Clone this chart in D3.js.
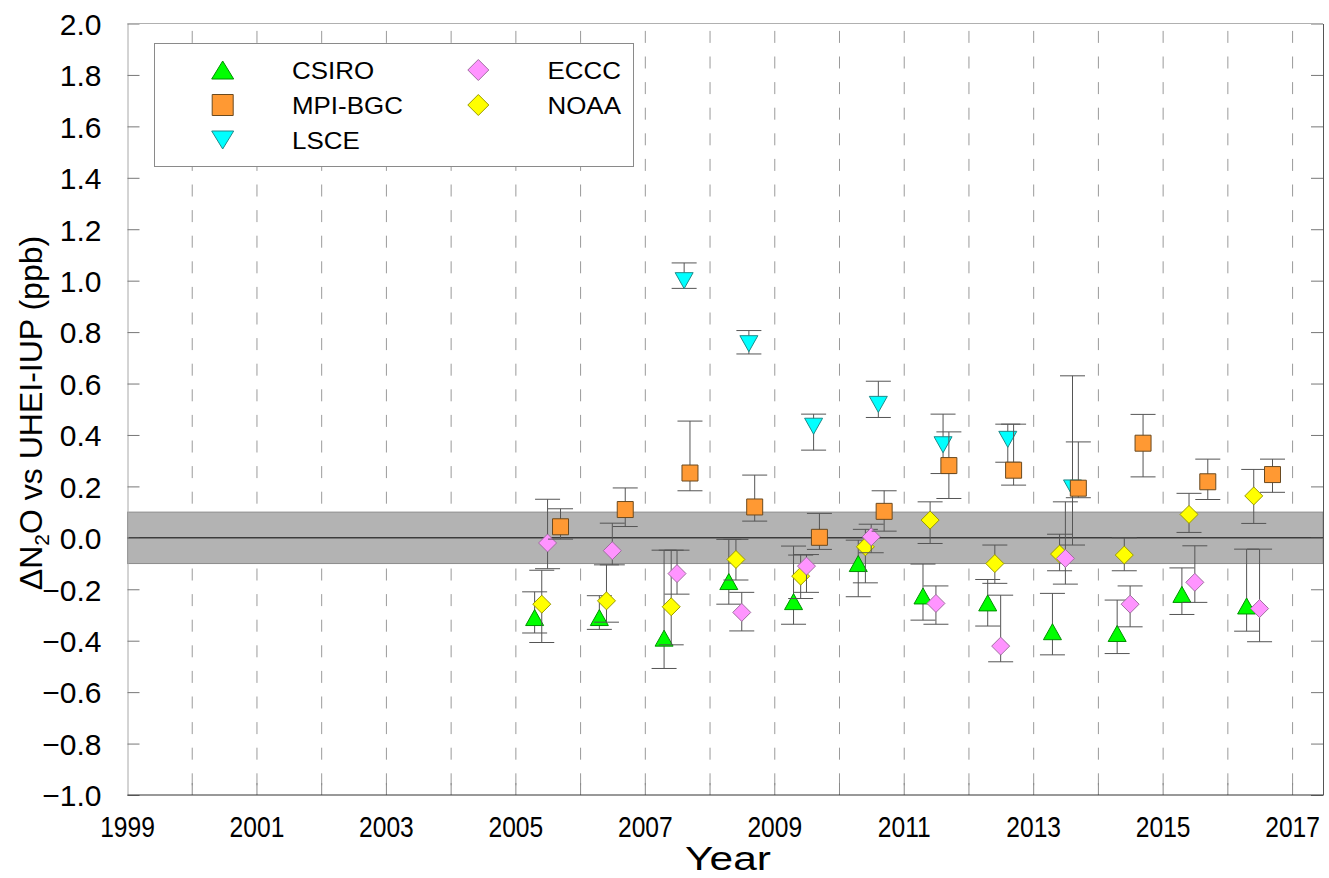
<!DOCTYPE html>
<html>
<head>
<meta charset="utf-8">
<script src="https://cdn.jsdelivr.net/npm/d3@7"></script>
<style>
  body { margin: 0; background: #fff; }
  svg { display: block; }
  text { font-family: "Liberation Sans", Arial, sans-serif; fill: #000; }
</style>
</head>
<body>
<svg id="chart" width="1329" height="878"></svg>
<script>
// ---- data: N2O offsets of each lab relative to UHEI-IUP (ppb) ----
const xTickYears = [1999, 2001, 2003, 2005, 2007, 2009, 2011, 2013, 2015, 2017];
const yTickValues = [-1.0, -0.8, -0.6, -0.4, -0.2, 0.0, 0.2, 0.4, 0.6, 0.8, 1.0, 1.2, 1.4, 1.6, 1.8, 2.0];
const bandLimits = [-0.1, 0.1];

const csiroDate = [2005.29, 2006.29, 2007.29, 2008.29, 2009.29, 2010.29, 2011.29, 2012.29, 2013.29, 2014.29, 2015.29, 2016.29];
const csiroVal  = [-0.31, -0.31, -0.39, -0.17, -0.248, -0.10, -0.226, -0.253, -0.365, -0.372, -0.22, -0.265];
const csiroLo   = [-0.37, -0.356, -0.508, -0.258, -0.336, -0.229, -0.32, -0.343, -0.455, -0.45, -0.298, -0.363];
const csiroHi   = [-0.21, -0.225, -0.048, -0.006, -0.032, -0.009, -0.102, -0.162, -0.216, -0.242, -0.117, -0.044];

const noaaDate = [2005.40, 2006.40, 2007.40, 2008.40, 2009.40, 2010.40, 2011.40, 2012.40, 2013.40, 2014.40, 2015.40, 2016.40];
const noaaVal  = [-0.258, -0.245, -0.268, -0.084, -0.149, -0.035, 0.069, -0.10, -0.063, -0.067, 0.091, 0.163];
const noaaLo   = [-0.407, -0.328, -0.416, -0.164, -0.236, -0.175, -0.022, -0.177, -0.128, -0.128, 0.021, 0.056];
const noaaHi   = [-0.126, -0.105, -0.048, -0.006, -0.067, 0.033, 0.14, -0.028, 0.014, 0.0, 0.173, 0.266];

const ecccDate = [2005.49, 2006.49, 2007.49, 2008.49, 2009.49, 2010.49, 2011.49, 2012.49, 2013.49, 2014.49, 2015.49, 2016.49];
const ecccVal  = [-0.02, -0.05, -0.139, -0.29, -0.11, 0.004, -0.255, -0.421, -0.08, -0.258, -0.173, -0.275];
const ecccLo   = [-0.12, -0.105, -0.219, -0.362, -0.212, -0.058, -0.336, -0.482, -0.18, -0.346, -0.251, -0.404];
const ecccHi   = [0.15, 0.057, -0.048, -0.212, -0.065, 0.053, -0.187, -0.223, 0.14, -0.187, -0.031, -0.044];

const lsceDate = [2007.60, 2008.60, 2009.60, 2010.60, 2011.60, 2012.60, 2013.60];
const lsceVal  = [1.0, 0.755, 0.434, 0.519, 0.362, 0.383, 0.194];
const lsceLo   = [0.97, 0.715, 0.341, 0.468, 0.25, 0.294, -0.028];
const lsceHi   = [1.069, 0.806, 0.481, 0.609, 0.481, 0.442, 0.63];

const mpiDate = [2005.69, 2006.69, 2007.69, 2008.69, 2009.69, 2010.69, 2011.69, 2012.69, 2013.69, 2014.69, 2015.69, 2016.69];
const mpiVal  = [0.043, 0.11, 0.252, 0.12, 0.002, 0.103, 0.281, 0.263, 0.193, 0.368, 0.218, 0.246];
const mpiLo   = [-0.005, 0.044, 0.183, 0.065, -0.045, 0.026, 0.153, 0.205, 0.156, 0.237, 0.149, 0.177];
const mpiHi   = [0.113, 0.194, 0.454, 0.244, 0.095, 0.183, 0.412, 0.442, 0.373, 0.48, 0.306, 0.306];

// ---- marker shapes (centred on the data point) ----
const shapes = {
  triUp:   (w, h) => `M0,${-h/2}L${w/2},${h/2}L${-w/2},${h/2}Z`,
  triDown: (w, h) => `M0,${h/2}L${w/2},${-h/2}L${-w/2},${-h/2}Z`,
  square:  (w, h) => `M${-w/2},${-h/2}H${w/2}V${h/2}H${-w/2}Z`,
  diamond: (w, h) => `M0,${-h/2}L${w/2},0L0,${h/2}L${-w/2},0Z`
};

const zip = (d, v, lo, hi) => d.map((x, i) => ({ x, v: v[i], lo: lo[i], hi: hi[i] }));

// drawing order: later series sit on top
const series = [
  { name: "CSIRO",   shape: "triUp",   size: [18, 16], legend: [22, 18], fill: "#00ff00", stroke: "#009000", pts: zip(csiroDate, csiroVal, csiroLo, csiroHi) },
  { name: "NOAA",    shape: "diamond", size: [18, 18], legend: [21, 21], fill: "#ffff00", stroke: "#9a9a00", pts: zip(noaaDate, noaaVal, noaaLo, noaaHi) },
  { name: "ECCC",    shape: "diamond", size: [18, 18], legend: [21, 21], fill: "#ff94ff", stroke: "#a070a0", pts: zip(ecccDate, ecccVal, ecccLo, ecccHi) },
  { name: "LSCE",    shape: "triDown", size: [18, 16], legend: [22, 18], fill: "#00ffff", stroke: "#208a8a", pts: zip(lsceDate, lsceVal, lsceLo, lsceHi) },
  { name: "MPI-BGC", shape: "square",  size: [16, 16], legend: [21, 21], fill: "#ff9933", stroke: "#6a4a20", pts: zip(mpiDate, mpiVal, mpiLo, mpiHi) }
];

// ---- layout ----
const svg = d3.select("#chart");
const plotL = 127.5, plotR = 1323, plotT = 23.5, plotB = 795;

const x = d3.scaleLinear().domain([1999, 2017.47]).range([plotL, plotR]);
const y = d3.scaleLinear().domain([-1, 2]).range([plotB, plotT]);

// dashed vertical grid at each year
const gridYears = d3.range(2000, 2018);
svg.append("g").selectAll("line").data(gridYears).join("line")
  .attr("x1", d => x(d)).attr("x2", d => x(d))
  .attr("y1", plotT).attr("y2", plotB)
  .attr("stroke", "#9a9a9a").attr("stroke-width", 1)
  .attr("stroke-dasharray", "12,13.6").attr("stroke-dashoffset", 18.2);

// bottom ticks (inward)
svg.append("g").selectAll("line").data(gridYears).join("line")
  .attr("x1", d => x(d)).attr("x2", d => x(d))
  .attr("y1", plotB).attr("y2", plotB - 12)
  .attr("stroke", "#8a8a8a").attr("stroke-width", 1);

// reference band and zero line
svg.append("rect")
  .attr("x", plotL).attr("width", plotR - plotL)
  .attr("y", y(bandLimits[1])).attr("height", y(bandLimits[0]) - y(bandLimits[1]))
  .attr("fill", "#b3b3b3").attr("stroke", "#8c8c8c").attr("stroke-width", 1);
svg.append("line")
  .attr("x1", plotL).attr("x2", plotR).attr("y1", y(0)).attr("y2", y(0))
  .attr("stroke", "#000").attr("stroke-width", 1);

// y axis ticks (inward on both sides) and labels
const yAxisL = d3.axisLeft(y).tickValues(yTickValues).tickSizeInner(-12).tickSizeOuter(0).tickPadding(26)
  .tickFormat(d3.format(".1f"));
const gL = svg.append("g").attr("transform", `translate(${plotL},0)`).call(yAxisL);
gL.select(".domain").attr("stroke", "#a8a8a8");
gL.selectAll(".tick line").attr("stroke", "#777");
gL.selectAll(".tick text").attr("font-size", 30).attr("font-family", "Liberation Sans, Arial, sans-serif")
  .attr("fill", "#000").attr("dy", "0.36em");

const yAxisR = d3.axisRight(y).tickValues(yTickValues).tickSizeInner(-12).tickSizeOuter(0).tickFormat("");
const gR = svg.append("g").attr("transform", `translate(${plotR},0)`).call(yAxisR);
gR.select(".domain").attr("stroke", "#555");
gR.selectAll(".tick line").attr("stroke", "#777");

// frame top and bottom
svg.append("line").attr("x1", plotL).attr("x2", plotR).attr("y1", plotT).attr("y2", plotT).attr("stroke", "#b0b0b0");
svg.append("line").attr("x1", plotL).attr("x2", plotR).attr("y1", plotB).attr("y2", plotB).attr("stroke", "#333");

// x tick labels (condensed face)
svg.append("g").selectAll("text").data(xTickYears).join("text")
  .attr("transform", d => `translate(${x(d)},837) scale(0.82,1)`)
  .attr("text-anchor", "middle").attr("font-size", 30)
  .text(d => d);

// axis titles
svg.append("text")
  .attr("transform", "translate(728,870) scale(1.25,1)")
  .attr("text-anchor", "middle").attr("font-size", 34)
  .text("Year");

const yTitle = svg.append("text")
  .attr("transform", "translate(42,413) rotate(-90)")
  .attr("text-anchor", "middle").attr("font-size", 32);
yTitle.append("tspan").text("\u0394N");
yTitle.append("tspan").attr("font-size", 21).attr("dy", 7).text("2");
yTitle.append("tspan").attr("dy", -7).text("O vs UHEI-IUP (ppb)");

// ---- series: error bars then markers ----
const capW = 25;
series.forEach(s => {
  const g = svg.append("g");
  const eb = g.selectAll("g.eb").data(s.pts).join("g").attr("class", "eb");
  eb.append("line")
    .attr("x1", d => x(d.x)).attr("x2", d => x(d.x))
    .attr("y1", d => y(d.lo)).attr("y2", d => y(d.hi))
    .attr("stroke", "#555").attr("stroke-width", 1);
  eb.append("line")
    .attr("x1", d => x(d.x) - capW / 2).attr("x2", d => x(d.x) + capW / 2)
    .attr("y1", d => y(d.lo)).attr("y2", d => y(d.lo))
    .attr("stroke", "#555").attr("stroke-width", 1);
  eb.append("line")
    .attr("x1", d => x(d.x) - capW / 2).attr("x2", d => x(d.x) + capW / 2)
    .attr("y1", d => y(d.hi)).attr("y2", d => y(d.hi))
    .attr("stroke", "#555").attr("stroke-width", 1);
  g.selectAll("path").data(s.pts).join("path")
    .attr("d", shapes[s.shape](...s.size))
    .attr("transform", d => `translate(${x(d.x)},${y(d.v)})`)
    .attr("fill", s.fill).attr("stroke", s.stroke).attr("stroke-width", 1);
});

// ---- legend ----
const legend = svg.append("g");
legend.append("rect").attr("x", 154.5).attr("y", 43.5).attr("width", 479).attr("height", 123)
  .attr("fill", "#fff").attr("stroke", "#8a8a8a").attr("stroke-width", 1);
const legendItems = [
  { name: "CSIRO", col: 0, row: 0 }, { name: "MPI-BGC", col: 0, row: 1 }, { name: "LSCE", col: 0, row: 2 },
  { name: "ECCC", col: 1, row: 0 }, { name: "NOAA", col: 1, row: 1 }
];
const colSym = [222.7, 478.3], colText = [292, 547.5], rowY = [70, 105, 140];
legendItems.forEach(it => {
  const s = series.find(d => d.name === it.name);
  legend.append("path")
    .attr("d", shapes[s.shape](...s.legend))
    .attr("transform", `translate(${colSym[it.col]},${rowY[it.row]})`)
    .attr("fill", s.fill).attr("stroke", s.stroke).attr("stroke-width", 1);
  legend.append("text")
    .attr("transform", `translate(${colText[it.col]},${rowY[it.row] + 8.5}) scale(1.08,1)`)
    .attr("font-size", 24)
    .text(it.name);
});
</script>
</body>
</html>
